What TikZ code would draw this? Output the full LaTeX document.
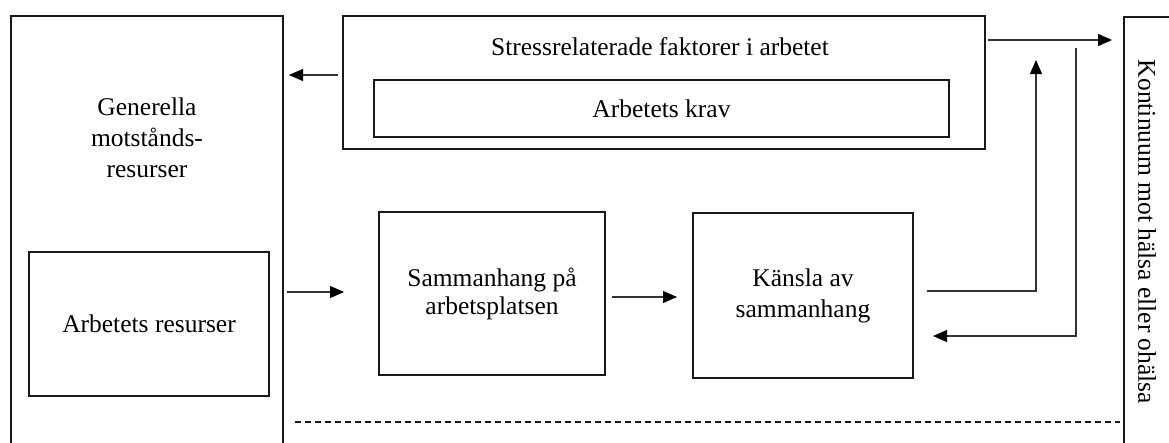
\documentclass[tikz,border=0pt]{standalone}
\usepackage{fontspec}
\setmainfont{Liberation Serif}
\usetikzlibrary{arrows.meta,calc}
\begin{document}
\begin{tikzpicture}[x=1pt,y=-1pt,
  box/.style={draw=black!90,line width=1.8pt,inner sep=0pt,outer sep=0pt,align=center},
  txt/.style={font=\fontsize{25.5}{31}\selectfont,align=center,inner sep=0pt},
  conn/.style={draw=black!80,line width=1.1pt,-{Triangle[length=14pt,width=12pt,color=black,fill=black]}},
  dashline/.style={draw=black!90,line width=1.6pt,dash pattern=on 6pt off 4pt}]
\clip (0,0) rectangle (1169,442);
\fill[white] (0,0) rectangle (1169,442);
% left column
\node[box,minimum width=272pt,minimum height=454pt] (gen) at (147,243) {};
\node[txt] (gentxt) at (147,138) {Generella\\motstånds-\\resurser};
\node[box,txt,minimum width=240pt,minimum height=144pt] (genres) at (149,324) {Arbetets resurser};
% top boxes
\node[box,minimum width=642pt,minimum height=133pt] (stress) at (664,82.5) {};
\node[txt] (stresstxt) at (660,47) {Stressrelaterade faktorer i arbetet};
\node[box,txt,minimum width=575pt,minimum height=57pt] (krav) at (661.5,108.5) {Arbetets krav};
% middle boxes
\node[box,txt,minimum width=226pt,minimum height=163pt,font=\fontsize{25.5}{28}\selectfont] (samm) at (492,293.5) {Sammanhang på\\arbetsplatsen};
\node[box,txt,minimum width=220pt,minimum height=165pt,font=\fontsize{25.5}{31}\selectfont] (kansla) at (803,295.5) {Känsla av\\sammanhang};
% right box
\node[box,minimum width=80pt,minimum height=453pt] (kont) at (1164,243.5) {};
\node[txt,rotate=-90] (konttxt) at (1147,232) {Kontinuum mot hälsa eller ohälsa};
% helper coordinates
\coordinate (dashy) at (0,422);
\coordinate (upend) at (1036,60);
\coordinate (retstart) at (1076,48);
% dashed line
\draw[dashline] ($(gen.east |- dashy)+(12,0)$) -- ($(kont.west |- dashy)+(-4,0)$);
% connectors
\draw[conn] ($(stress.west)+(-5,-7.5)$) -- ($(gen.east |- stress.west)+(6,-7.5)$);
\draw[conn] ($(gen.east |- samm.west)+(4,-1.5)$) -- ($(samm.west)+(-35,-1.5)$);
\draw[conn] ($(samm.east)+(7,3.5)$) -- ($(kansla.west)+(-16,1.5)$);
\draw[conn] ($(stress.north east)+(3,24)$) -- ($(kont.west |- stress.north east)+(-12,24)$);
\draw[conn] ($(kansla.east)+(14,-4.5)$) -| (upend);
\draw[conn] (retstart) |- ($(kansla.east)+(20,40.5)$);
\end{tikzpicture}
\end{document}
